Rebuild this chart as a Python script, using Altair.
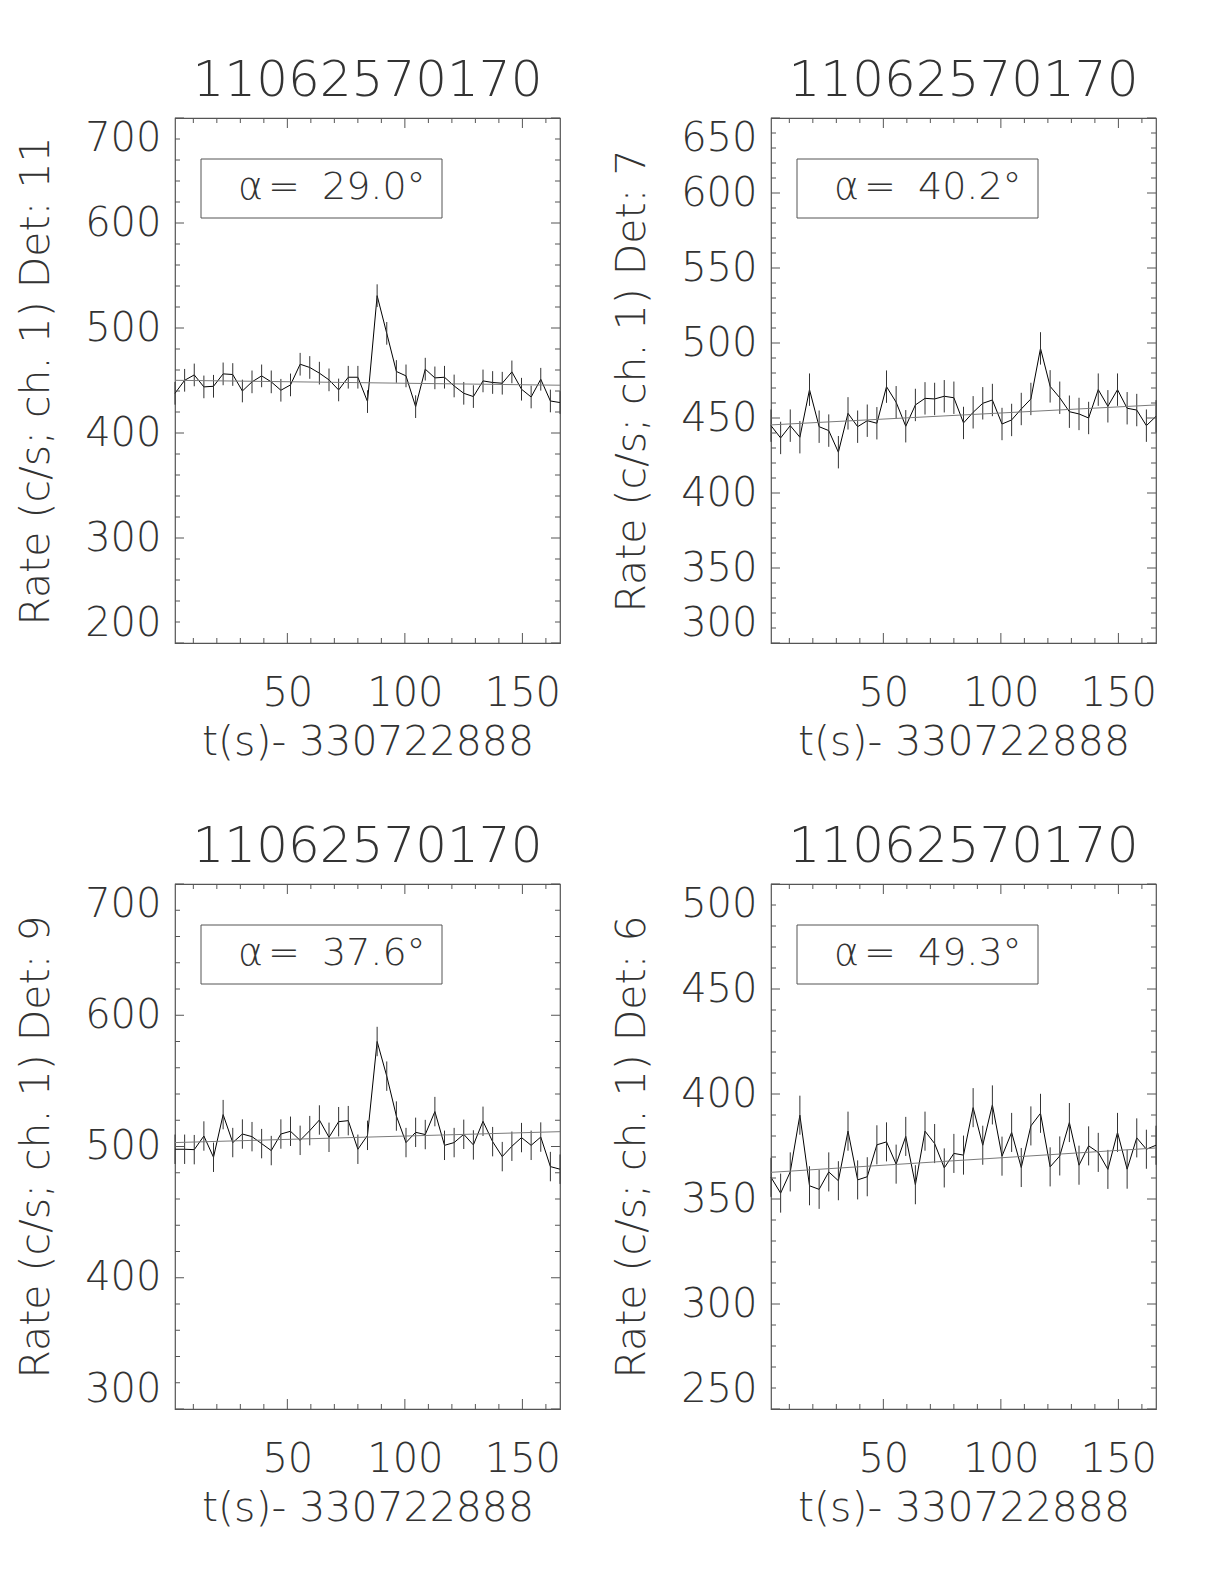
import altair as alt
import pandas as pd

# time bins (s after 330722888)
T = [2.2, 6.3, 10.39, 14.49, 18.58, 22.68, 26.77, 30.87, 34.96, 39.06,
     43.15, 47.25, 51.34, 55.44, 59.53, 63.63, 67.72, 71.82, 75.91, 80.01,
     84.1, 88.2, 92.29, 96.39, 100.48, 104.58, 108.67, 112.77, 116.86, 120.96,
     125.05, 129.15, 133.24, 137.34, 141.43, 145.53, 149.62, 153.72, 157.81, 161.91,
     166.0]

RATE_DET11 = [437.8, 450.2, 455.3, 443.9, 444.5, 456.3, 455.7, 440.0, 448.7, 454.4,
              448.7, 440.7, 445.8, 465.5, 462.4, 457.0, 450.6, 441.0, 453.1, 453.1,
              429.9, 530.8, 494.9, 458.6, 454.4, 425.1, 460.8, 452.5, 453.1, 444.8,
              437.8, 434.7, 449.6, 448.1, 447.4, 458.2, 441.7, 434.3, 451.2, 430.5,
              429.0]
RATE_DET7 = [444.9, 436.7, 444.9, 437.2, 468.9, 444.2, 441.6, 427.2, 453.1, 444.2,
             448.2, 446.5, 470.9, 460.5, 444.5, 458.7, 463.1, 462.7, 464.5, 463.5,
             446.7, 453.8, 459.8, 462.0, 446.0, 448.7, 456.0, 462.7, 496.4, 471.1,
             463.5, 454.2, 452.7, 450.0, 468.9, 457.8, 468.9, 456.5, 455.3, 444.9,
             451.1]
RATE_DET9 = [497.9, 497.9, 497.6, 508.0, 491.8, 524.3, 503.0, 509.5, 507.5, 502.2,
             496.9, 509.5, 511.6, 504.7, 512.1, 520.2, 507.0, 518.9, 519.7, 497.9,
             508.5, 580.0, 553.6, 523.2, 503.0, 510.8, 509.1, 526.6, 500.9, 503.0,
             509.3, 501.2, 519.2, 503.7, 492.3, 500.2, 506.8, 500.9, 507.2, 484.7,
             482.7]
RATE_DET6 = [360.3, 352.8, 362.9, 389.9, 356.3, 354.6, 362.9, 358.7, 382.3, 359.1,
             360.6, 375.8, 377.2, 366.6, 379.8, 356.8, 382.3, 376.4, 364.8, 371.7,
             370.9, 393.5, 375.6, 394.8, 370.4, 381.7, 365.0, 384.8, 390.8, 365.3,
             370.5, 386.4, 366.1, 375.3, 372.2, 364.1, 381.7, 364.2, 379.1, 373.7,
             375.6]

# half-length of the error bars per panel
ERRORS = [10.8, 10.8, 11.2, 9.3]

FIT_T = [2.2, 166.0]
FIT_DET11 = [450.2, 445.5]
FIT_DET7 = [445.4, 458.7]
FIT_DET9 = [503.0, 511.3]
FIT_DET6 = [362.7, 374.3]

DETS = ["11", "7", "9", "6"]
ALPHAS = ["29.0", "40.2", "37.6", "49.3"]
Y_DOMAINS = [[200, 700], [300, 650], [300, 700], [250, 500]]
Y_LABELS = [[200, 300, 400, 500, 600, 700],
            [300, 350, 400, 450, 500, 550, 600, 650],
            [300, 400, 500, 600, 700],
            [250, 300, 350, 400, 450, 500]]
Y_MINOR_STEP = [20, 10, 20, 10]
X_DOMAIN = [2.2, 166.0]
X_LABELS = [50, 100, 150]
X_MINOR_STEP = 10
PANEL_TITLE = "11062570170"
X_TITLE = "t(s)- 330722888"

W, H = 385, 525
FONT = "DejaVu Sans"
FW = 200
TXT = "#333333"
FRAME = "#555555"
FS_LABEL = 40
FS_TITLE = 41
FS_BOX = 38

AX_STYLE = dict(labelFont=FONT, titleFont=FONT, labelFontSize=FS_LABEL,
                titleFontSize=FS_TITLE, labelFontWeight=FW, titleFontWeight=FW,
                labelColor=TXT, titleColor=TXT, ticks=False, domain=False,
                grid=False, format="d")


def panel(rate, err, fit_r, det, alpha, ydom, ylabels, ystep):
    xs = alt.Scale(domain=X_DOMAIN, nice=False, zero=False)
    ys = alt.Scale(domain=ydom, nice=False, zero=False)
    df = pd.DataFrame({"t": T, "r": rate,
                       "lo": [v - err for v in rate],
                       "hi": [v + err for v in rate]})
    fit = pd.DataFrame({"t": FIT_T, "r": fit_r})

    xaxis = alt.Axis(values=X_LABELS, title=X_TITLE, labelPadding=30,
                     titlePadding=9, labelFlush=False, **AX_STYLE)
    yaxis = alt.Axis(values=ylabels, title=f"Rate (c/s; ch. 1) Det: {det}",
                     labelPadding=14, titlePadding=27, labelFlush=True, **AX_STYLE)

    def X(f="t"):
        return alt.X(f"{f}:Q", scale=xs, axis=xaxis)

    def Y(f="r"):
        return alt.Y(f"{f}:Q", scale=ys, axis=yaxis)

    line = alt.Chart(df).mark_line(color="black", strokeWidth=1).encode(x=X(), y=Y())
    bars = alt.Chart(df).mark_rule(color="#333333", strokeWidth=1).encode(
        x=X(), y=Y("lo"), y2="hi:Q")
    fitl = alt.Chart(fit).mark_line(color="#7a7a7a", strokeWidth=1).encode(x=X(), y=Y())

    ymaj = pd.DataFrame({"r": ylabels})
    ymin_vals = [v for v in range(ydom[0], ydom[1] + 1, ystep) if v not in ylabels]
    ymin = pd.DataFrame({"r": ymin_vals})
    xmaj = pd.DataFrame({"t": X_LABELS})
    xmin = pd.DataFrame({"t": [v for v in range(10, 170, X_MINOR_STEP) if v not in X_LABELS]})

    def yt(d, x0, x1):
        return alt.Chart(d).mark_rule(color=FRAME, strokeWidth=1).encode(
            y=Y(), x=alt.value(x0), x2=alt.value(x1))

    def xt(d, y0, y1):
        return alt.Chart(d).mark_rule(color=FRAME, strokeWidth=1).encode(
            x=X(), y=alt.value(y0), y2=alt.value(y1))

    ticks = [yt(ymaj, 0, 9), yt(ymaj, W - 9, W), yt(ymin, 0, 5), yt(ymin, W - 5, W),
             xt(xmaj, H, H - 10), xt(xmaj, 0, 10), xt(xmin, H, H - 5), xt(xmin, 0, 5)]

    one = pd.DataFrame({"a": [0]})
    box = alt.Chart(one).mark_rect(filled=False, stroke=FRAME, strokeWidth=1).encode(
        x=alt.value(26), x2=alt.value(267), y=alt.value(41), y2=alt.value(100))

    def label(txt, x):
        return alt.Chart(one).mark_text(text=txt, align="left", baseline="middle",
                                        fontSize=FS_BOX, font=FONT, fontWeight=FW,
                                        color=TXT).encode(x=alt.value(x), y=alt.value(70))

    return alt.layer(line, bars, fitl, *ticks, box, label("α", 63), label("=", 93),
                     label(f"{alpha}°", 147)).properties(
        width=W, height=H,
        title=alt.TitleParams(PANEL_TITLE, fontSize=50, font=FONT, fontWeight=FW,
                              color=TXT, offset=12, anchor="middle"))


rates = [RATE_DET11, RATE_DET7, RATE_DET9, RATE_DET6]
fits = [FIT_DET11, FIT_DET7, FIT_DET9, FIT_DET6]
panels = [panel(rates[i], ERRORS[i], fits[i], DETS[i], ALPHAS[i], Y_DOMAINS[i],
                Y_LABELS[i], Y_MINOR_STEP[i]) for i in range(4)]

chart = alt.concat(*panels, columns=2, spacing={"row": 241, "column": 211},
                   bounds="flush").properties(
    padding={"left": 7, "top": 46, "right": 5, "bottom": 5}
).configure_view(stroke=FRAME, strokeWidth=1.2)

chart.save("out.html", embed_options={"renderer": "svg", "actions": False})
